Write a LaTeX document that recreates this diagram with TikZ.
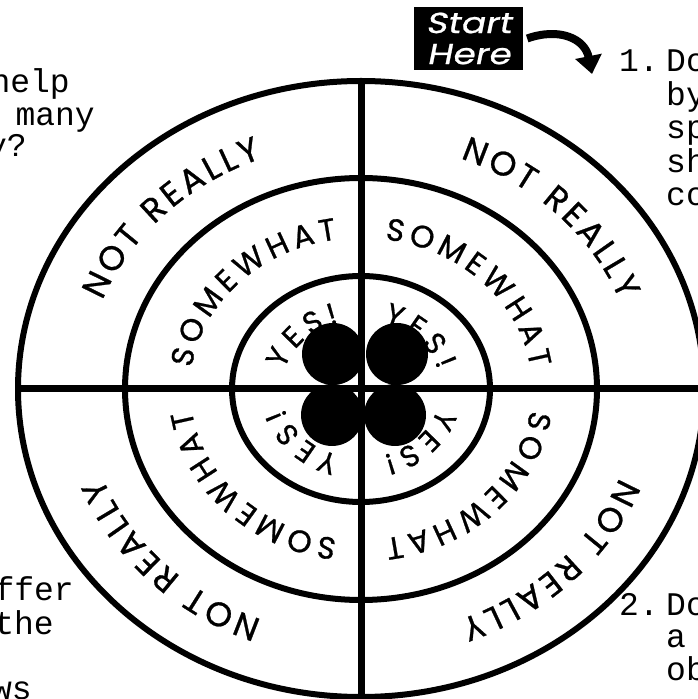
\documentclass[tikz,border=0pt]{standalone}
\usepackage{fontspec}
\setmainfont{Liberation Sans}
\newfontfamily\monofont{Liberation Mono}
\newfontfamily\ringfont[FakeBold=0.8]{Poppins}
\newfontfamily\startfont[FakeSlant=0.2,FakeBold=0.8,FakeStretch=1.25]{Poppins}
\usetikzlibrary{decorations.text,arrows.meta}

\newcommand\ringlabel[6]{%
  \path[decorate,decoration={text along path,text align=fit to path,text={|#5|#6}}]
    ([shift={(C)}]{#1+#2}:#3 and #4) arc[start angle={#1+#2},end angle={#1-#2},x radius=#3,y radius=#4];}
\newcommand\NRfont{\ringfont\fontsize{34}{34}\selectfont}
\newcommand\SWfont{\ringfont\fontsize{31}{31}\selectfont}
\newcommand\YSfont{\ringfont\fontsize{30}{30}\selectfont}

\tikzset{
  ring/.style={line width=6pt},
  axis/.style={line width=7pt},
  dot/.style={circle,fill=black,inner sep=0pt,minimum size=62pt},
  side/.style={font=\monofont\fontsize{33}{33}\selectfont,inner sep=0pt,text=black},
  startbox/.style={fill=black,text=white,minimum width=109pt,minimum height=63pt,inner sep=0pt,
     align=center,font=\startfont\fontsize{29}{31}\selectfont},
  startarrow/.style={line width=8pt,-{Triangle[width=26pt,length=18pt]}}
}

\begin{document}
\begin{tikzpicture}[x=1pt,y=1pt]
\useasboundingbox (0,0) rectangle (698,699);
\clip (0,0) rectangle (698,699);
\coordinate (C) at (361,310);

% rings
\draw[ring] (C) ellipse [x radius=343, y radius=308];
\draw[ring] (C) ellipse [x radius=236, y radius=211];
\draw[ring] (C) ellipse [x radius=129, y radius=113];

% cross
\coordinate (top) at (361,618);
\coordinate (bot) at (361,2);
\coordinate (lft) at (18,310);
\coordinate (rgt) at (704,310);
\draw[axis] (top) -- (bot);
\draw[axis] (lft) -- (rgt);

% ring labels
\foreach \a in {135,45,-45,-135}{
  \ringlabel{\a}{24}{277}{247}{\NRfont}{NOT REALLY}
  \ringlabel{\a}{37}{171}{151}{\SWfont}{SOMEWHAT}
  \ringlabel{\a}{29}{80}{69}{\YSfont}{YES!}
}

% dots
\node[dot] (d1) at (333,345) {};
\node[dot] (d2) at (397,345) {};
\node[dot] (d3) at (332,284) {};
\node[dot] (d4) at (395,284) {};

% start here
\node[startbox] (start) at (468.5,660.5) {Start\\Here};
\coordinate (tip) at (592,625);
\draw[startarrow] ([xshift=4pt]start.east) .. controls (560,672) and (585,660) .. (tip);

% side texts left top
\node[side,anchor=base east] (l1) at (70,606) {help};
\node[side,anchor=base east] (l2) at (95,573) {many};
\node[side,anchor=base east] (l3) at (27,542) {y?};
% left bottom
\node[side,anchor=base east] (l4) at (74,98) {ffer};
\node[side,anchor=base east] (l5) at (54,64) {the};
\node[side,anchor=base east] (l6) at (32,-1) {ws};
% right top
\node[side,anchor=base west] (r1) at (619,627) {1.};
\node[side,anchor=base west] (r1b) at (666,627) {Do};
\node[side,anchor=base west] (r2) at (666,593.5) {by};
\node[side,anchor=base west] (r3) at (666,560) {sp};
\node[side,anchor=base west] (r4) at (666,526.5) {sh};
\node[side,anchor=base west] (r5) at (666,493) {co};
% right bottom
\node[side,anchor=base west] (s1) at (619,83) {2.};
\node[side,anchor=base west] (s1b) at (666,83) {Do};
\node[side,anchor=base west] (s2) at (666,51) {a};
\node[side,anchor=base west] (s3) at (666,19) {ob};
\end{tikzpicture}
\end{document}
